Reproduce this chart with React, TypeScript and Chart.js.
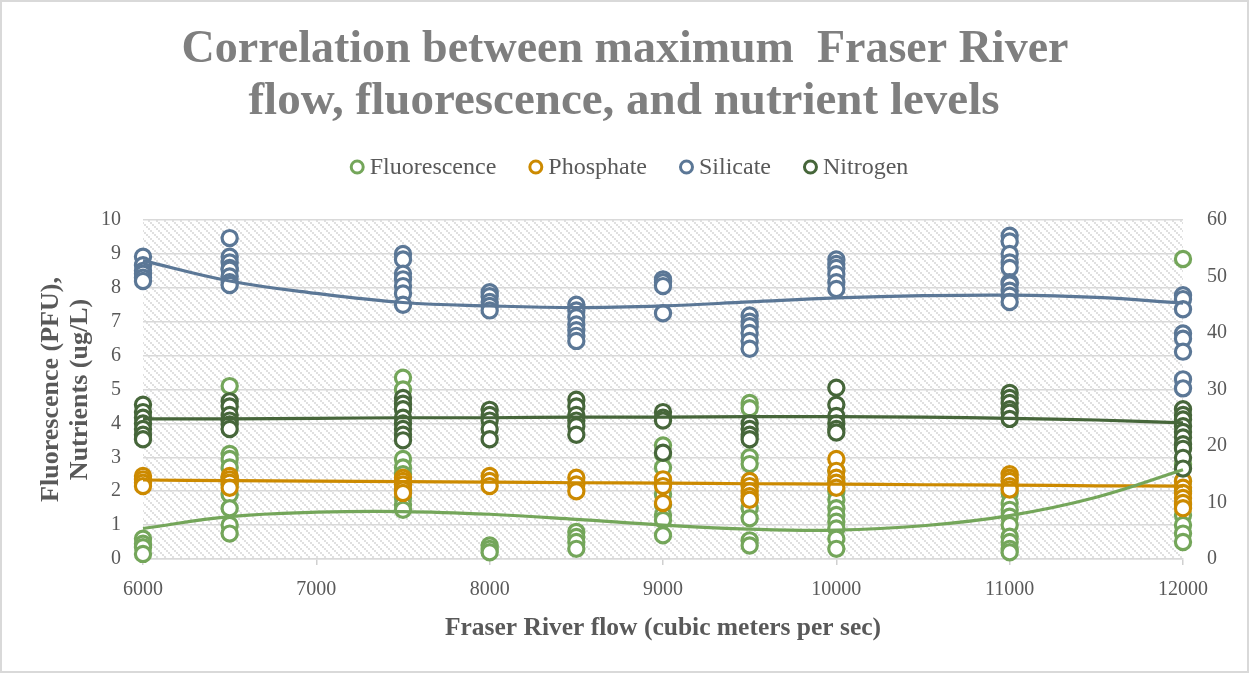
import React, { useEffect, useRef } from 'react';
import { Chart, registerables } from 'chart.js';

Chart.register(...registerables);

const W = 1249;
const H = 673;

const titleLines = ['Correlation between maximum  Fraser River', 'flow, fluorescence, and nutrient levels'];
const xTitle = 'Fraser River flow (cubic meters per sec)';
const yTitleLines = ['Fluorescence (PFU),', 'Nutrients (ug/L)'];

// x positions (Fraser River flow) of the sample groups
const flowLevels = [6000, 6500, 7500, 8000, 8500, 9000, 9500, 10000, 11000, 12000];

// Fluorescence (left axis), one list per flow level
const fluorescence: number[][] = [
  [0.6, 0.45, 0.35, 0.15],
  [5.1, 3.1, 2.95, 2.7, 2.4, 2.2, 1.9, 1.5, 1.0, 0.75],
  [5.35, 5.0, 2.95, 2.7, 2.5, 2.2, 2.0, 1.8, 1.6, 1.45],
  [0.4, 0.3, 0.2],
  [0.8, 0.65, 0.5, 0.3],
  [3.35, 3.1, 2.7, 2.2, 1.9, 1.6, 1.3, 1.15, 0.7],
  [4.6, 4.45, 3.0, 2.8, 2.2, 1.75, 1.5, 1.2, 0.55, 0.4],
  [2.6, 2.3, 2.0, 1.75, 1.5, 1.3, 1.1, 0.9, 0.6, 0.3],
  [1.95, 1.65, 1.45, 1.25, 1.0, 0.66, 0.5, 0.3, 0.2],
  [8.85, 3.3, 2.8, 2.3, 2.0, 1.6, 1.3, 1.0, 0.75, 0.5],
];

// Phosphate (left axis)
const phosphate: number[][] = [
  [2.45, 2.35, 2.25, 2.15],
  [2.45, 2.35, 2.25, 2.1],
  [2.4, 2.3, 2.2, 2.05, 1.95],
  [2.45, 2.3, 2.15],
  [2.4, 2.2, 2.0],
  [2.35, 2.15, 1.65],
  [2.3, 2.15, 2.0, 1.85, 1.75],
  [2.95, 2.6, 2.4, 2.25, 2.1],
  [2.5, 2.4, 2.3, 2.15, 2.05],
  [2.3, 2.1, 1.95, 1.8, 1.65, 1.5],
];

// Silicate (right axis)
const silicate: number[][] = [
  [53.5, 52.0, 51.0, 50.5, 49.8, 49.2],
  [56.8, 53.5, 52.5, 51.5, 51.2, 50, 49, 48.5],
  [54, 53, 50.5, 49.5, 48.3, 47, 45],
  [47.2, 46.5, 45.5, 44.8, 44],
  [45, 44, 42.8, 41.5, 40.5, 39.5, 38.6],
  [49.5, 49, 48.3, 43.5],
  [43.1, 42, 41.2, 40, 38.6, 37.2],
  [53, 52.2, 51.5, 50.4, 49, 47.8],
  [57.2, 56.2, 54, 52.5, 51.5, 49, 48.6, 47.5, 46.6, 45.5],
  [46.7, 46.0, 44.2, 39.9, 39.0, 36.7, 31.8, 30.2],
];

// Nitrogen (right axis)
const nitrogen: number[][] = [
  [27.3, 26, 25, 24, 23, 22, 21.2],
  [27.9, 27, 25.5, 24.5, 23.8, 23],
  [28.5, 27.5, 26.5, 25, 24, 23, 22, 21],
  [26.4, 25.5, 24.5, 23, 21.2],
  [28.2, 27, 25.5, 24.5, 23.5, 22],
  [26, 25, 24.5, 18.8],
  [24, 23, 22, 21.2],
  [30.3, 27.3, 25.3, 24, 23, 22.4],
  [29.4, 28.5, 27.6, 26.5, 25.9, 24.8],
  [26.5, 25.5, 24.7, 23.5, 22.5, 21.5, 20.3, 19.5, 17.9, 16],
];

// Trend line readings
const trendFlow = [6000, 6500, 7000, 7500, 8000, 8500, 9000, 9500, 10000, 10500, 11000, 11500, 12000];
const fluorTrend = [0.9, 1.25, 1.38, 1.4, 1.32, 1.17, 1.0, 0.88, 0.85, 0.98, 1.28, 1.82, 2.63];
const phosTrend = [2.33, 2.31, 2.3, 2.28, 2.27, 2.25, 2.24, 2.22, 2.21, 2.19, 2.18, 2.16, 2.15];
const silTrend = [52.8, 49.2, 47.0, 45.4, 44.8, 44.5, 44.8, 45.5, 46.2, 46.6, 46.7, 46.3, 45.3];
const nitTrend = [24.8, 24.8, 24.9, 25.0, 25.0, 25.1, 25.1, 25.2, 25.2, 25.1, 24.9, 24.6, 24.1];

const leftTicks = [0, 1, 2, 3, 4, 5, 6, 7, 8, 9, 10];
const rightTicks = [0, 10, 20, 30, 40, 50, 60];
const xTicks = [6000, 7000, 8000, 9000, 10000, 11000, 12000];

const C_FLUOR = '#74a65a';
const C_PHOS = '#cc8a00';
const C_SIL = '#5b7796';
const C_NIT = '#46663a';
const TEXT = '#595959';
const SERIF = '"Liberation Serif", serif';

const toPoints = (groups: number[][]) =>
  flowLevels.flatMap((f, i) => groups[i].map((v) => ({ x: f, y: v })));
const toLine = (vals: number[]) => trendFlow.map((f, i) => ({ x: f, y: vals[i] }));

function makePattern(): CanvasPattern | string {
  const c = document.createElement('canvas');
  c.width = 8;
  c.height = 8;
  const g = c.getContext('2d');
  if (!g) return '#f4f4f4';
  g.fillStyle = '#ffffff';
  g.fillRect(0, 0, 8, 8);
  g.fillStyle = '#e0e0e0';
  for (let i = 0; i < 4; i++) g.fillRect(i * 2, i * 2, 2, 2);
  const p = g.createPattern(c, 'repeat');
  return p || '#f4f4f4';
}

const legendItems = [
  { label: 'Fluorescence', color: C_FLUOR },
  { label: 'Phosphate', color: C_PHOS },
  { label: 'Silicate', color: C_SIL },
  { label: 'Nitrogen', color: C_NIT },
];

const decorPlugin = {
  id: 'decor',
  beforeDraw(chart: any) {
    const { ctx, chartArea } = chart;
    ctx.save();
    ctx.fillStyle = '#ffffff';
    ctx.fillRect(0, 0, W, H);
    ctx.fillStyle = makePattern();
    ctx.fillRect(chartArea.left, chartArea.top, chartArea.right - chartArea.left, chartArea.bottom - chartArea.top);
    ctx.restore();
  },
  afterDraw(chart: any) {
    const { ctx } = chart;
    ctx.save();
    // border
    ctx.strokeStyle = '#d9d9d9';
    ctx.lineWidth = 2;
    ctx.strokeRect(1, 1, W - 2, H - 2);
    // title
    ctx.fillStyle = '#7f7f7f';
    ctx.font = `bold 46px ${SERIF}`;
    ctx.textAlign = 'center';
    ctx.textBaseline = 'middle';
    ctx.fillText(titleLines[0], 625, 50);
    ctx.font = `bold 47px ${SERIF}`;
    ctx.fillText(titleLines[1], 624, 102);
    // legend
    ctx.font = `24px ${SERIF}`;
    const markerW = 15;
    const gapText = 5;
    const gapItem = 32;
    const widths = legendItems.map((it) => markerW + gapText + ctx.measureText(it.label).width);
    const total = widths.reduce((a, b) => a + b, 0) + gapItem * (legendItems.length - 1);
    let x = 629 - total / 2;
    const y = 167;
    ctx.textAlign = 'left';
    legendItems.forEach((it, i) => {
      ctx.beginPath();
      ctx.arc(x + markerW / 2, y, 6, 0, Math.PI * 2);
      ctx.fillStyle = '#ffffff';
      ctx.fill();
      ctx.lineWidth = 3;
      ctx.strokeStyle = it.color;
      ctx.stroke();
      ctx.fillStyle = TEXT;
      ctx.fillText(it.label, x + markerW + gapText, y + 1);
      x += widths[i] + gapItem;
    });
    ctx.restore();
  },
};

const pointStyle = (color: string) => ({
  type: 'scatter' as const,
  backgroundColor: '#ffffff',
  borderColor: color,
  borderWidth: 3.2,
  pointRadius: 7.6,
  pointHoverRadius: 7.6,
  showLine: false,
  clip: false,
});

const lineStyle = (color: string) => ({
  type: 'line' as const,
  borderColor: color,
  backgroundColor: color,
  borderWidth: 3.2,
  pointRadius: 0,
  tension: 0.4,
  fill: false,
  clip: false,
});

export default function App() {
  const ref = useRef<HTMLCanvasElement>(null);
  useEffect(() => {
    if (!ref.current) return;
    const chart = new Chart(ref.current, {
      type: 'scatter',
      data: {
        datasets: [
          { label: 'Fluorescence trend', data: toLine(fluorTrend), yAxisID: 'y', order: 0, ...lineStyle(C_FLUOR) },
          { label: 'Phosphate trend', data: toLine(phosTrend), yAxisID: 'y', order: 0, ...lineStyle(C_PHOS) },
          { label: 'Silicate trend', data: toLine(silTrend), yAxisID: 'y2', order: 0, ...lineStyle(C_SIL) },
          { label: 'Nitrogen trend', data: toLine(nitTrend), yAxisID: 'y2', order: 0, ...lineStyle(C_NIT) },
          { label: 'Nitrogen', data: toPoints(nitrogen), yAxisID: 'y2', order: 1, ...pointStyle(C_NIT) },
          { label: 'Silicate', data: toPoints(silicate), yAxisID: 'y2', order: 2, ...pointStyle(C_SIL) },
          { label: 'Phosphate', data: toPoints(phosphate), yAxisID: 'y', order: 3, ...pointStyle(C_PHOS) },
          { label: 'Fluorescence', data: toPoints(fluorescence), yAxisID: 'y', order: 4, ...pointStyle(C_FLUOR) },
        ] as any,
      },
      plugins: [decorPlugin],
      options: {
        responsive: false,
        animation: false,
        events: [],
        layout: { padding: { top: 220, left: 0, right: 0, bottom: 0 } },
        plugins: { legend: { display: false }, title: { display: false }, tooltip: { enabled: false } },
        scales: {
          x: {
            type: 'linear',
            position: 'bottom',
            min: 6000,
            max: 12000,
            afterBuildTicks: (s: any) => { s.ticks = xTicks.map((v) => ({ value: v })); },
            afterFit: (s: any) => { s.height = 114; },
            grid: { drawOnChartArea: false, drawTicks: true, tickLength: 6, color: '#d0d0d0', lineWidth: 1.5 },
            border: { display: true, color: '#d9d9d9', width: 1.5 },
            ticks: { color: TEXT, font: { family: SERIF, size: 20 }, padding: 13, maxRotation: 0, callback: (v: any) => String(v) },
            title: { display: true, text: xTitle, color: TEXT, font: { family: SERIF, size: 25.5, weight: 'bold', lineHeight: 1.2 }, padding: { top: 0, bottom: 29 } },
          },
          y: {
            type: 'linear',
            position: 'left',
            min: 0,
            max: 10,
            afterBuildTicks: (s: any) => { s.ticks = leftTicks.map((v) => ({ value: v })); },
            afterFit: (s: any) => { s.width = 143; },
            grid: { color: '#d9d9d9', lineWidth: 1.5, drawTicks: false },
            border: { display: false },
            ticks: { color: TEXT, font: { family: SERIF, size: 20 }, padding: 22, callback: (v: any) => String(v) },
            title: { display: true, text: yTitleLines, color: TEXT, font: { family: SERIF, size: 26, weight: 'bold', lineHeight: 1.12 }, padding: { top: 37, bottom: 0 } },
          },
          y2: {
            type: 'linear',
            position: 'right',
            min: 0,
            max: 60,
            afterBuildTicks: (s: any) => { s.ticks = rightTicks.map((v) => ({ value: v })); },
            afterFit: (s: any) => { s.width = W - 1183; },
            grid: { display: false, drawTicks: false },
            border: { display: false },
            ticks: { color: TEXT, font: { family: SERIF, size: 20 }, padding: 24, callback: (v: any) => String(v) },
          },
        },
      } as any,
    });
    return () => chart.destroy();
  }, []);
  return (
    <div style={{ position: 'fixed', left: 0, top: 0, width: W, height: H, background: '#fff' }}>
      <canvas ref={ref} width={W} height={H} style={{ display: 'block', width: W, height: H }} />
    </div>
  );
}
